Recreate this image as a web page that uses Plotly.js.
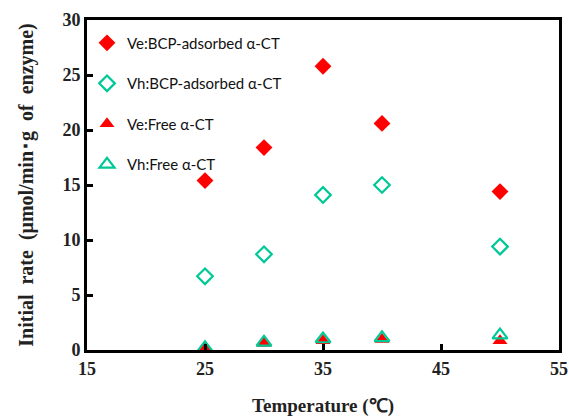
<!DOCTYPE html>
<html><head><meta charset="utf-8">
<script src="https://cdn.plot.ly/plotly-3.0.1.min.js"></script>
<style>body{margin:0;background:#fff}</style>
</head><body>
<div id="chart" style="width:569px;height:417px"></div>
<script>
const temps = [25, 30, 35, 40, 50];
const veBCP = [15.4, 18.4, 25.8, 20.6, 14.4];
const vhBCP = [6.7, 8.7, 14.1, 15.0, 9.4];
const veFree = [0.15, 0.6, 0.85, 0.95, 0.85];
const vhFree = [0.2, 0.7, 1.0, 1.1, 1.35];
const names = ["Ve:BCP-adsorbed α-CT", "Vh:BCP-adsorbed α-CT", "Ve:Free α-CT", "Vh:Free α-CT"];

const red = "#FF0000", teal = "#00C896";
const traces = [
  {x: temps, y: veBCP, name: names[0], legendgroup: "a", mode: "markers", type: "scatter",
   marker: {symbol: "diamond", size: 13, color: red}},
  {x: temps, y: vhBCP, name: names[1], legendgroup: "b", mode: "markers", type: "scatter",
   marker: {symbol: "diamond-open", size: 12, color: teal, line: {width: 2.2, color: teal}}},
  {x: temps, y: veFree, name: names[2], legendgroup: "c", mode: "markers", type: "scatter",
   marker: {symbol: "triangle-up", size: 13, color: red}},
  {x: temps, y: vhFree, name: names[3], legendgroup: "d", mode: "markers", type: "scatter",
   marker: {symbol: "triangle-up-open", size: 13, color: teal, line: {width: 2.2, color: teal}}}
];

const serif = "Liberation Serif, Times New Roman, serif";
const tickFont = {family: serif, size: 18, color: "#222", weight: "bold"};
const layout = {
  width: 569, height: 417,
  margin: {l: 87, r: 10, t: 20, b: 67},
  paper_bgcolor: "#fff", plot_bgcolor: "#fff",
  showlegend: true,
  legend: {x: 0.0, y: 0.98, xanchor: "left", yanchor: "top", bgcolor: "rgba(0,0,0,0)",
           font: {family: "Lato, Open Sans, sans-serif", size: 15, color: "#111"},
           tracegroupgap: 18, itemwidth: 30},
  xaxis: {range: [15, 55], tickvals: [15, 25, 35, 45, 55], ticks: "inside", ticklen: 6, tickwidth: 3,
          tickcolor: "#000", showline: true, linewidth: 3, linecolor: "#000", mirror: true,
          showgrid: false, zeroline: false, tickfont: tickFont,
          title: {text: "Temperature (℃)", font: {family: serif, size: 19, color: "#222", weight: "bold"}, standoff: 24}},
  yaxis: {range: [0, 30], tickvals: [0, 5, 10, 15, 20, 25, 30], ticks: "inside", ticklen: 6, tickwidth: 3,
          tickcolor: "#000", showline: true, linewidth: 3, linecolor: "#000", mirror: true,
          showgrid: false, zeroline: false, tickfont: tickFont,
          title: {text: "Initial  rate  (μmol/min･g  of  enzyme)", font: {family: serif, size: 20, color: "#222", weight: "bold"}, standoff: 24}}
};
Plotly.newPlot("chart", traces, layout, {displayModeBar: false, staticPlot: true});
</script>
</body></html>
